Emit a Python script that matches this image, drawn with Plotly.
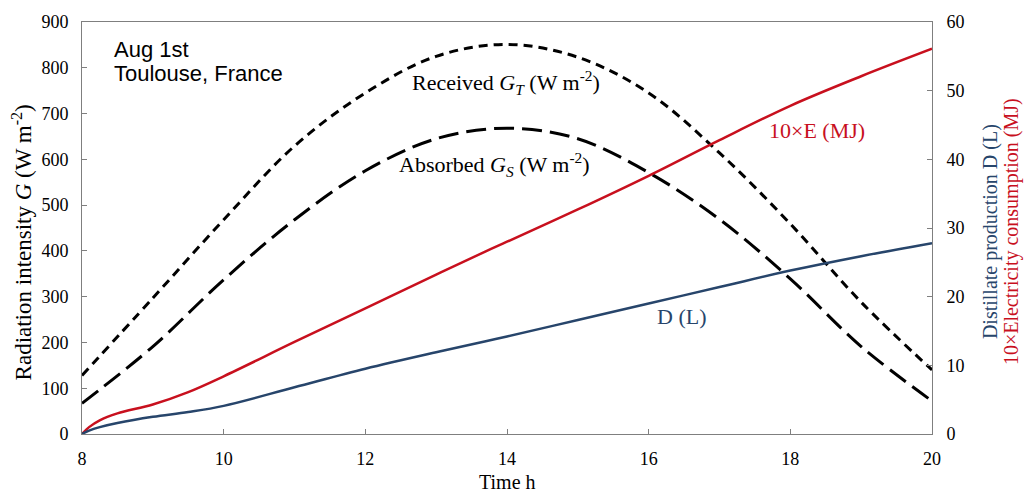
import plotly.graph_objects as go

# Hourly radiation (W m-2)
hours_g = [8, 9, 10, 11, 12, 13, 14, 15, 16, 17, 18, 19, 20]
received_gt = [128, 297, 468, 629, 745, 825, 851, 823, 745, 614, 459, 288, 140]
absorbed_gs = [67, 191, 337, 468, 575, 645, 668, 645, 571, 469, 339, 191, 72]

# Cumulative production / consumption
hours_p = [8, 8.1, 8.25, 8.5, 9, 9.5, 10, 11, 12, 13, 13.7, 14, 15, 16, 17, 18, 19, 20]
energy_10e = [0, 1.0, 2.0, 3.0, 4.3, 6.1, 8.4, 13.4, 18.3, 23.2, 26.6, 28.0, 32.7, 37.6, 42.8, 47.8, 52.1, 56.1]
distillate_d = [0, 0.5, 1.0, 1.6, 2.5, 3.2, 4.1, 6.8, 9.5, 11.9, 13.5, 14.2, 16.6, 19.0, 21.4, 23.8, 25.9, 27.8]

x_ticks = [8, 10, 12, 14, 16, 18, 20]
y_ticks = [0, 100, 200, 300, 400, 500, 600, 700, 800, 900]
y2_ticks = [0, 10, 20, 30, 40, 50, 60]

RED = "#C8101E"
BLUE = "#27456B"
SERIF = "Liberation Serif"
SANS = "Liberation Sans"
AXC = "#7F7F7F"

fig = go.Figure()
fig.add_trace(go.Scatter(x=hours_g, y=received_gt, mode="lines", line_shape="spline",
                         line=dict(color="black", width=3, dash="9px,6px"), showlegend=False))
fig.add_trace(go.Scatter(x=hours_g, y=absorbed_gs, mode="lines", line_shape="spline",
                         line=dict(color="black", width=3, dash="20px,8px"), showlegend=False))
fig.add_trace(go.Scatter(x=hours_p, y=energy_10e, mode="lines", line_shape="spline", yaxis="y2",
                         line=dict(color=RED, width=2.5), showlegend=False))
fig.add_trace(go.Scatter(x=hours_p, y=distillate_d, mode="lines", line_shape="spline", yaxis="y2",
                         line=dict(color=BLUE, width=2.5), showlegend=False))

tickfont = dict(family=SERIF, size=18, color="black")
fig.update_layout(
    width=1029, height=495,
    margin=dict(l=82, r=97, t=19, b=61),
    paper_bgcolor="white", plot_bgcolor="white",
    xaxis=dict(range=[8, 20], tickvals=x_ticks, ticks="inside", ticklen=5, tickcolor=AXC,
               showline=True, linecolor=AXC, linewidth=1, mirror=True, showgrid=False,
               zeroline=False, tickfont=tickfont, ticklabelstandoff=8),
    yaxis=dict(range=[0, 900], tickvals=y_ticks, ticks="inside", ticklen=5, tickcolor=AXC,
               showline=True, linecolor=AXC, linewidth=1, showgrid=False, zeroline=False,
               tickfont=tickfont, ticklabelstandoff=9),
    yaxis2=dict(range=[0, 60], tickvals=y2_ticks, ticks="inside", ticklen=5, tickcolor=AXC,
                overlaying="y", side="right", showline=True, linecolor=AXC, linewidth=1,
                showgrid=False, zeroline=False, tickfont=tickfont, ticklabelstandoff=10),
)

ann_font = dict(family=SERIF, size=22, color="black")
fig.add_annotation(x=13.98, y=768, text="Received <i>G<sub>T</sub></i> (W m<sup>-2</sup>)",
                   showarrow=False, font=ann_font)
fig.add_annotation(x=13.83, y=589, text="Absorbed <i>G<sub>S</sub></i> (W m<sup>-2</sup>)",
                   showarrow=False, font=ann_font)
fig.add_annotation(x=18.38, y=663, text="10×E (MJ)", showarrow=False,
                   font=dict(family=SERIF, size=22, color=RED))
fig.add_annotation(x=16.46, y=256, text="D (L)", showarrow=False,
                   font=dict(family=SERIF, size=22, color=BLUE))
fig.add_annotation(x=8.42, y=839, text="Aug 1st", showarrow=False, xanchor="left",
                   font=dict(family=SANS, size=22, color="black"))
fig.add_annotation(x=8.42, y=787, text="Toulouse, France", showarrow=False, xanchor="left",
                   font=dict(family=SANS, size=22, color="black"))

# Axis titles
fig.add_annotation(xref="paper", yref="paper", x=0.5, y=0, yshift=-48, xanchor="center",
                   yanchor="middle", text="Time h", showarrow=False,
                   font=dict(family=SERIF, size=20, color="black"))
fig.add_annotation(xref="paper", yref="paper", x=0, xshift=-60, y=0.465, xanchor="center",
                   yanchor="middle", textangle=-90,
                   text="Radiation intensity <i>G</i> (W m<sup>-2</sup>)", showarrow=False,
                   font=dict(family=SERIF, size=23, color="black"))
fig.add_annotation(xref="paper", yref="paper", x=1.0, xshift=58, y=0.49, xanchor="center",
                   yanchor="middle", textangle=-90,
                   text="Distillate production D (L)", showarrow=False,
                   font=dict(family=SERIF, size=20, color=BLUE))
fig.add_annotation(xref="paper", yref="paper", x=1.0, xshift=79, y=0.49, xanchor="center",
                   yanchor="middle", textangle=-90,
                   text="10×Electricity consumption (MJ)", showarrow=False,
                   font=dict(family=SERIF, size=20, color=RED))

fig.write_html("out.html")
